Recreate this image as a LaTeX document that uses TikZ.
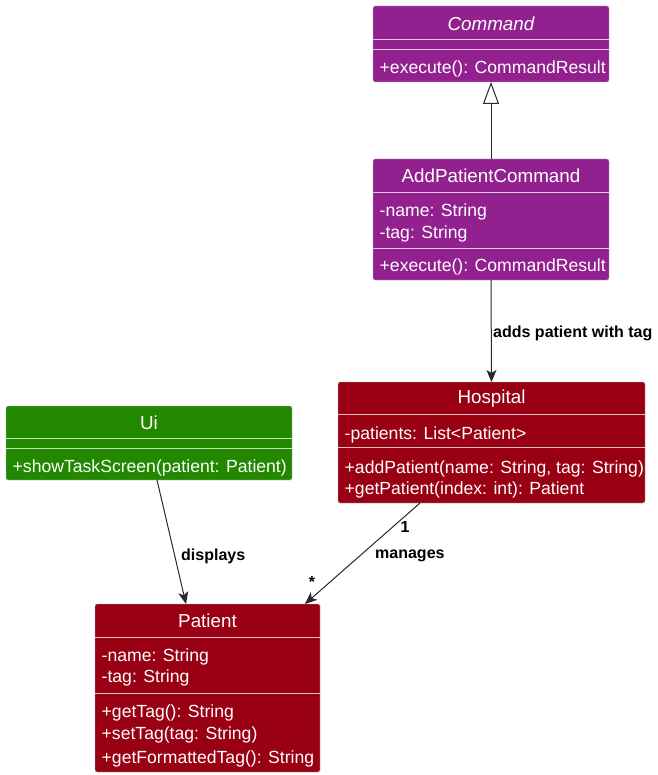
\documentclass[tikz,border=0pt]{standalone}
\usepackage{fontspec}
\setmainfont{Liberation Sans}
\usetikzlibrary{arrows.meta,calc}
\definecolor{cmdpurple}{RGB}{146,33,143}
\definecolor{modelred}{RGB}{153,0,20}
\definecolor{uigreen}{RGB}{34,136,0}
\definecolor{linkgray}{RGB}{40,40,40}
\tikzset{
    classbox/.style={draw=white!75!black, line width=0.4pt, rounded corners=2pt,
        anchor=north west, inner sep=0pt, outer sep=0pt},
    classname/.style={text=white, font=\fontsize{18.8}{22}\selectfont, inner sep=0pt},
    member/.style={text=white, font=\fontsize{17.6}{22}\selectfont, anchor=west, inner sep=0pt},
    sepline/.style={draw=white, opacity=0.75, line width=0.8pt},
    link/.style={draw=linkgray, line width=1pt, -{Stealth[length=12pt,width=10pt,inset=3pt]}},
    linklabel/.style={font=\bfseries\fontsize{16}{19}\selectfont, inner sep=0pt},
}
\begin{document}
\begin{tikzpicture}[x=1pt, y=-1pt]
            \useasboundingbox (0,0) rectangle (657,775);

            % command
            \node[classbox, fill=cmdpurple, minimum width=236, minimum height=76] (cmd) at (373,6) {};
            \node[classname] (cmdname) at (491,23.5) {\itshape Command};
            \foreach \y in {39,49}
                \draw[sepline] (373,\y) -- (609,\y);
            \node[member] (cmdexec) at (379.5,69) {+execute(): CommandResult};

            % add patient command
            \node[classbox, fill=cmdpurple, minimum width=236, minimum height=121] (apc) at (373,159) {};
            \node[classname] (apcname) at (491,176) {AddPatientCommand};
            \foreach \y in {192,248}
                \draw[sepline] (373,\y) -- (609,\y);
            \foreach \y/\txt [count=\i] in {212/{-name: String}, 234/{-tag: String}, 267/{+execute(): CommandResult}}
                \node[member] (apcline\i) at (379.5,\y) {\txt};

            % hospital
            \node[classbox, fill=modelred, minimum width=307, minimum height=121] (hosp) at (338,382) {};
            \node[classname] (hospname) at (491.5,399) {Hospital};
            \foreach \y in {414,447}
                \draw[sepline] (338,\y) -- (645,\y);
            \foreach \y/\txt [count=\i] in {435/{-patients: List<Patient>},
                    468.5/{+addPatient(name: String, tag: String)}, 490/{+getPatient(index: int): Patient}}
                \node[member] (hospline\i) at (344.5,\y) {\txt};

            % ui
            \node[classbox, fill=uigreen, minimum width=286, minimum height=74] (ui) at (6,406) {};
            \node[classname] (uiname) at (149,423) {Ui};
            \foreach \y in {438,448}
                \draw[sepline] (6,\y) -- (292,\y);
            \node[member] (uishow) at (12.5,468) {+showTaskScreen(patient: Patient)};

            % patient
            \node[classbox, fill=modelred, minimum width=225, minimum height=168] (patient) at (95,604) {};
            \node[classname] (patientname) at (207.5,621) {Patient};
            \foreach \y in {637,693}
                \draw[sepline] (95,\y) -- (320,\y);
            \foreach \y/\txt [count=\i] in {657/{-name: String}, 678/{-tag: String}, 713/{+getTag(): String},
                    735/{+setTag(tag: String)}, 759/{+getFormattedTag(): String}}
                \node[member] (patientline\i) at (101.5,\y) {\txt};

            % links
            \draw[draw=linkgray, line width=1pt, -{Triangle[open,length=22pt,width=16pt]}]
                (apc.north) -- (cmd.south);
            \draw[link] (apc.south) -- (hosp.north);
            \node[linklabel, anchor=west] (addslabel) at (493,333) {adds patient with tag};
            \draw[link] ($(ui.south)+(8,0)$) -- ($(patient.north)+(-21.5,0)$);
            \node[linklabel, anchor=west] (displayslabel) at (181,556) {displays};
            \draw[link] ($(hosp.south)+(-71.5,0)$) -- ($(patient.north)+(97.5,0)$);
            \node[linklabel] (onelabel) at (405,527) {1};
            \node[linklabel, anchor=west] (manageslabel) at (375,556) {manages};
            \node[linklabel] (manylabel) at (312,582) {*};
\end{tikzpicture}
\end{document}
